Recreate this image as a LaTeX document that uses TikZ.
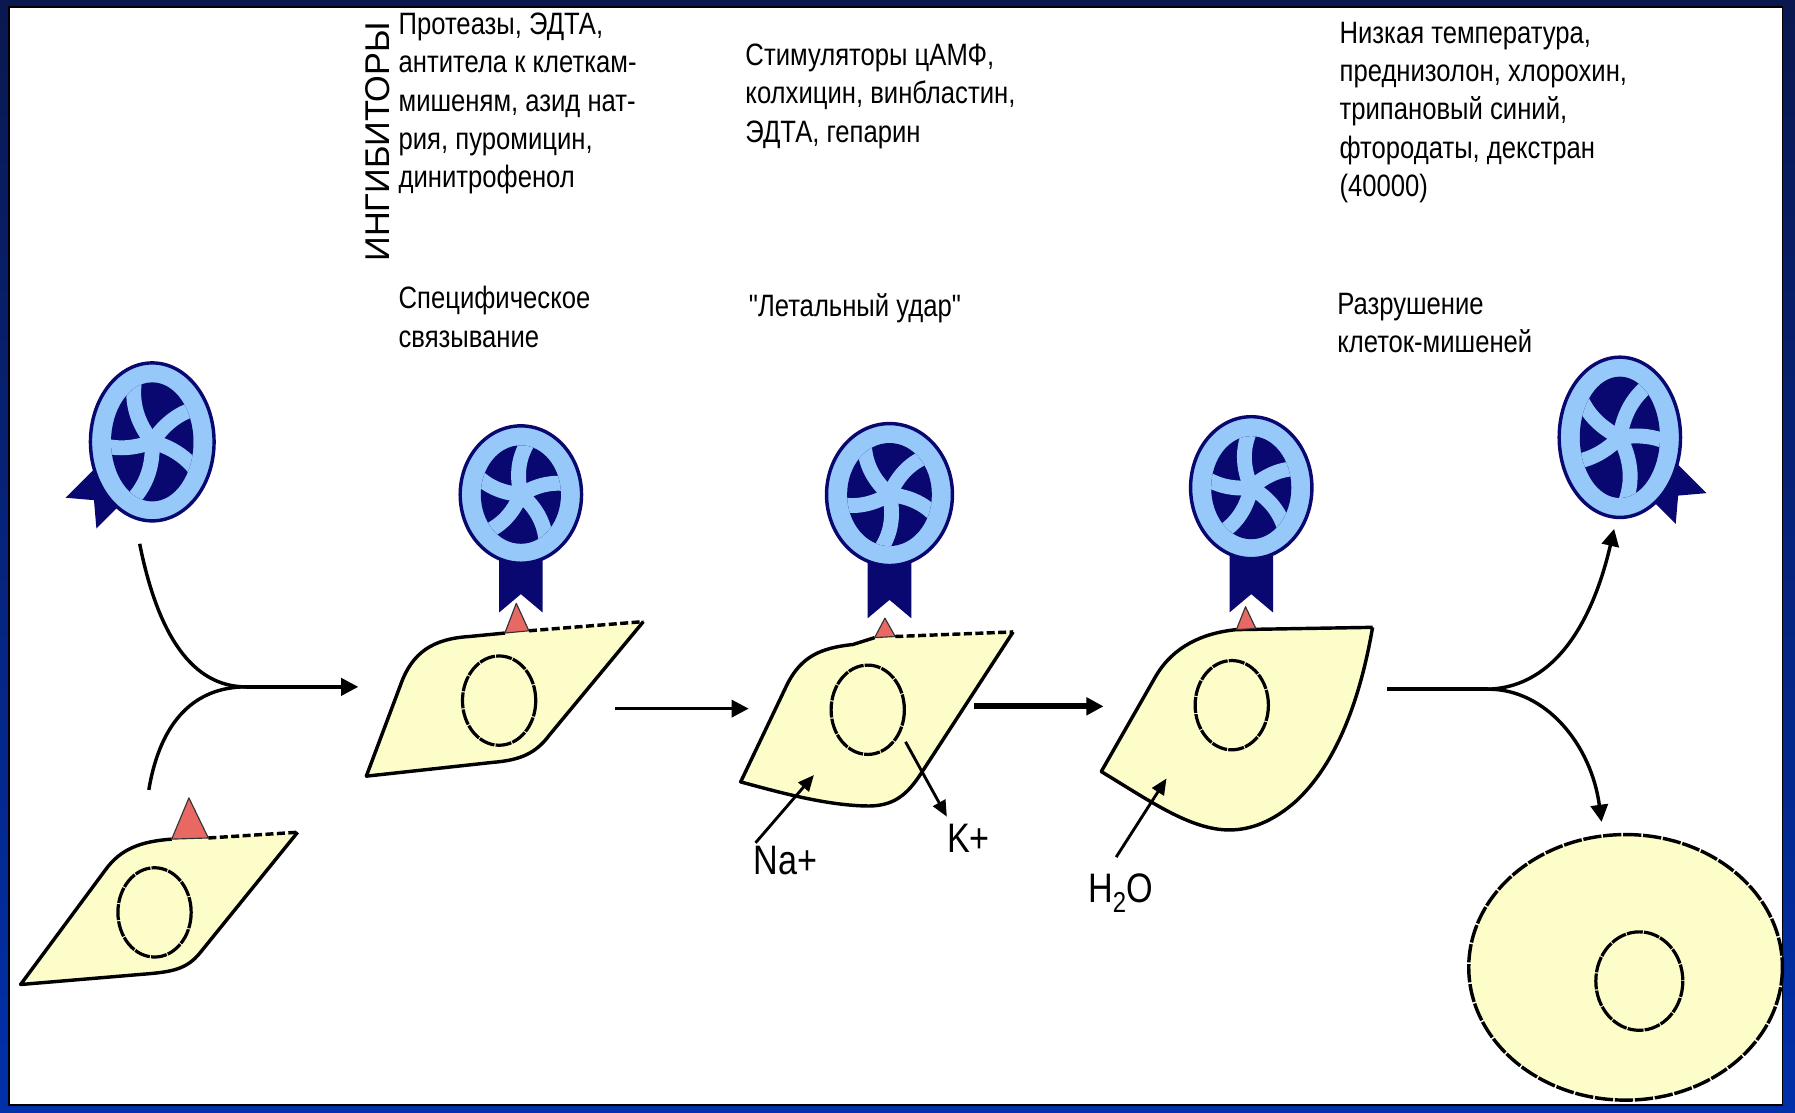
\documentclass[tikz,border=0pt]{standalone}
\usepackage{fontspec}
\setmainfont{Liberation Sans}[FakeStretch=0.83,Ligatures=TeXOff]
\newfontfamily\widefont{Liberation Sans}
\usepackage{tikz}
\usetikzlibrary{arrows.meta}
\usetikzlibrary{calc}

\definecolor{cellfill}{RGB}{253,253,202}
\definecolor{abnavy}{RGB}{8,8,112}
\definecolor{ablight}{RGB}{150,200,250}
\definecolor{antigenred}{RGB}{232,104,100}
\definecolor{frametop}{RGB}{10,24,80}
\definecolor{framebot}{RGB}{0,48,170}

\tikzstyle{cell}=[fill=cellfill,draw=black,line width=3pt,line join=round]
\tikzstyle{openedge}=[draw=black,line width=3pt,dash pattern=on 7pt off 3pt]
\tikzstyle{nucleus}=[draw=black,line width=2.8pt,dash pattern=on 14pt off 1pt]
\tikzstyle{antigen}=[fill=antigenred,draw=black!80,line width=1pt,line join=round]
\tikzstyle{flow}=[line width=3pt,-{Triangle[length=15pt,width=15pt]}]
\tikzstyle{ion}=[line width=2.5pt,-{Triangle[length=14pt,width=12pt]}]
\tikzstyle{blocktext}=[align=left,anchor=north west,inner sep=0pt,font=\fontsize{27}{33.5}\selectfont]
\tikzstyle{ionlabel}=[inner sep=0pt,font=\fontsize{36}{40}\selectfont]

% killer cell: name, x, y, x radius, y radius, ribbon angle, ribbon length, blade angle
\newcommand{\antibody}[8]{%
  \begin{scope}[shift={(#2,#3)}]
    \coordinate (#1) at (0,0);
    \fill[abnavy,rotate=#6] (-19,0) -- (-19,#7) -- (0,#7-16) -- (19,#7) -- (19,0) -- cycle;
    \filldraw[fill=ablight,draw=abnavy,line width=3pt] (0,0) ellipse [x radius=#4,y radius=#5];
    \begin{scope}
      \clip (0,0) ellipse [x radius=#4-18,y radius=#5-17];
      \fill[abnavy] (-#4,-#5) rectangle (#4,#5);
      \fill[ablight] (0,0) circle [radius=9];
      \foreach \ang in {0,72,...,288}
        \draw[ablight,line width=13pt,rotate=#8+\ang] (0,0) to[bend left=28] (0,-#5);
    \end{scope}
  \end{scope}}

\begin{document}
\begin{tikzpicture}[x=1pt,y=-1pt]
\useasboundingbox (0,0) rectangle (1568,972);
% frame
\shade[top color=frametop,bottom color=framebot] (0,0) rectangle (1568,972);
\fill[white] (8,6) rectangle (1557,965);
\draw[black,line width=1.5pt] (8,6) rectangle (1557,965);

% captions
\node[rotate=90,inner sep=0pt,font=\widefont\fontsize{30}{32}\selectfont] (inhib) at (330,124) {ИНГИБИТОРЫ};
\node[blocktext] (inhibA) at (348,11) {Протеазы, ЭДТА,\\антитела к клеткам-\\мишеням, азид нат-\\рия, пуромицин,\\динитрофенол};
\node[blocktext] (inhibC) at (651,38) {Стимуляторы цАМФ,\\колхицин, винбластин,\\ЭДТА, гепарин};
\node[blocktext] (inhibD) at (1170,19) {Низкая температура,\\преднизолон, хлорохин,\\трипановый синий,\\фтородаты, декстран\\(40000)};
\node[blocktext] (bindlbl) at (348,250) {Специфическое\\связывание};
\node[blocktext] (hitlbl) at (654,256) {"Летальный удар"};
\node[blocktext] (lysislbl) at (1168,256) {Разрушение\\клеток-мишеней};

% killer cells
\antibody{abA}{133}{386}{54}{69}{-45}{88}{10}
\antibody{abB}{455}{432}{53}{60}{0}{103}{-15}
\antibody{abC}{777}{432}{55}{62}{0}{108}{20}
\antibody{abD}{1093}{426}{53}{62}{0}{109}{-5}
\antibody{abE}{1415}{382}{53}{70}{45}{88}{35}

% target cell, free
\filldraw[cell] (260,727) -- (175,832) .. controls (163,847) and (150,849) .. (125,851) -- (18,860) -- (92,760) .. controls (105,742) and (122,735) .. (150,733);
\draw[openedge] (182,732) -- (260,727);
\draw[nucleus] (135,797) ellipse [x radius=32,y radius=39];
\filldraw[antigen] (150,733) -- (165,697) -- (182,732) -- cycle;

% target cell, bound
\filldraw[cell] (562,543) -- (480,642) .. controls (468,658) and (455,664) .. (430,666) -- (320,678) -- (350,598) .. controls (360,570) and (378,558) .. (410,556) -- (441,553);
\draw[openedge] (462,551) -- (562,543);
\draw[nucleus] (436,612) ellipse [x radius=32,y radius=39];
\filldraw[antigen] (441,553) -- (451,527) -- (462,551) -- cycle;

% target cell, hit
\filldraw[cell] (885,552) -- (805,675) .. controls (792,695) and (780,705) .. (755,704) .. controls (720,703) and (680,692) .. (647,683) -- (688,597) .. controls (700,574) and (716,566) .. (745,563) -- (764,557);
\draw[openedge] (782,556) -- (885,552);
\draw[nucleus] (758,620) ellipse [x radius=32,y radius=39];
\filldraw[antigen] (764,557) -- (773,540) -- (782,556) -- cycle;

% target cell, swelling
\filldraw[cell] (1199,548) .. controls (1190,600) and (1172,662) .. (1133,699) .. controls (1112,718) and (1092,725) .. (1074,725) .. controls (1040,725) and (1005,700) .. (962,674) -- (1010,590) .. controls (1025,565) and (1050,553) .. (1080,550) -- (1199,548);
\draw[nucleus] (1076,616) ellipse [x radius=32,y radius=39];
\filldraw[antigen] (1080,550) -- (1088,530) -- (1097,549) -- cycle;

% lysed cell
\filldraw[cell,dash pattern=on 16pt off 1.5pt] (1420,845) ellipse [x radius=137,y radius=116];
\draw[nucleus] (1432,857) ellipse [x radius=38,y radius=43];

% main flow
\coordinate (fromA) at (122,475);
\coordinate (fromCellA) at (130,690);
\coordinate (joinL) at (215,600);
\coordinate (toB) at (313,600);
\draw[line width=3pt] (fromA) .. controls (138,555) and (168,600) .. (joinL);
\draw[line width=3pt] (fromCellA) .. controls (140,630) and (170,600) .. (joinL);
\draw[flow] (joinL) -- (toB);

\coordinate (outB) at (537,619);
\coordinate (inC) at (654,619);
\draw[flow] (outB) -- (inC);
\coordinate (outC) at (851,617);
\coordinate (inD) at (964,617);
\draw[flow,line width=5pt] (outC) -- (inD);

\coordinate (outD) at (1212,602);
\coordinate (joinR) at (1300,602);
\coordinate (toE) at (1410,462);
\coordinate (toF) at (1399,718);
\draw[line width=3pt] (outD) -- (joinR);
\draw[flow] (joinR) .. controls (1360,600) and (1392,540) .. (toE);
\draw[flow] (joinR) .. controls (1350,602) and (1390,650) .. (toF);

% ions
\node[ionlabel] (na) at (686,752) {Na+};
\node[ionlabel] (kk) at (846,732) {K+};
\node[ionlabel] (water) at (979,780) {H\textsubscript{2}O};
\coordinate (naIn) at (711,677);
\coordinate (kOut) at (791,648);
\coordinate (waterIn) at (1019,680);
\draw[ion] ($(na.north west)+(2,-3)$) -- (naIn);
\draw[ion] (kOut) -- ($(kk.north west)+(0,-6)$);
\draw[ion] ($(water.north)+(-4,-14)$) -- (waterIn);
\end{tikzpicture}
\end{document}
